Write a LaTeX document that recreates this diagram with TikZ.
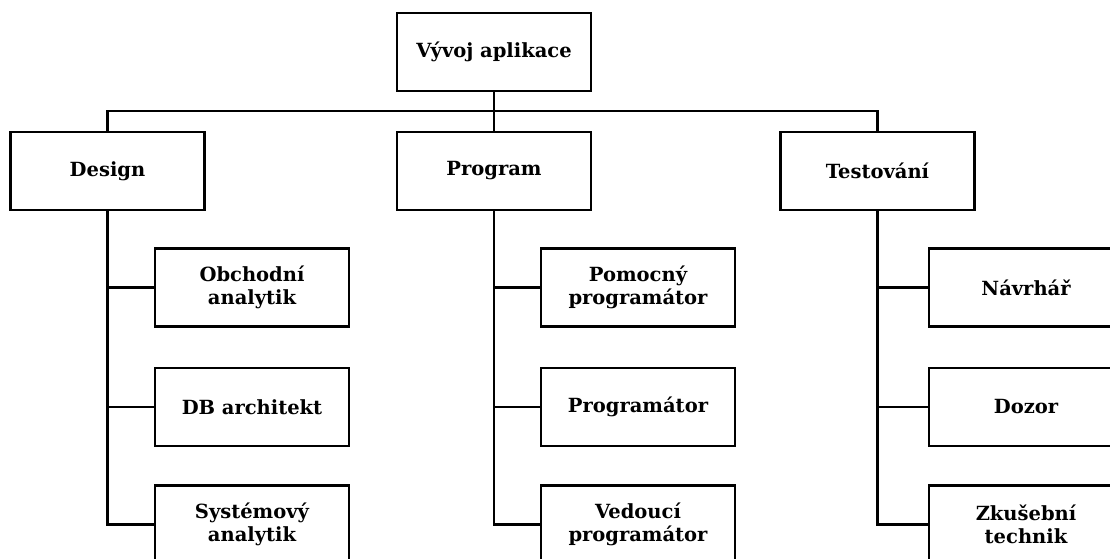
\documentclass[tikz,border=0pt]{standalone}
\usepackage{fontspec}
\setmainfont{DejaVu Serif}
\usetikzlibrary{positioning}

\begin{document}
\begin{tikzpicture}[x=1pt, y=-1pt, line width=2.6pt,
    every node/.style={font=\bfseries\fontsize{19.5}{23.5}\selectfont},
    role/.style={draw, rectangle, fill=white, align=center, minimum width=194pt, minimum height=78pt, inner sep=0pt}]
  \useasboundingbox (0,0) rectangle (1110,559);
  \clip (0,0) rectangle (1110,559);
  \node[role] (root) at (494,52) {Vývoj aplikace};
  \node[role] (design) at (107.5,171) {Design};
  \node[role] (program) at (494,171) {Program};
  \node[role] (test) at (877.5,171) {Testování};
  \coordinate (bar) at (494,111);
  \draw (root.south) -- (bar);
  \draw (design.north) |- (bar);
  \draw (program.north) -- (bar);
  \draw (test.north) |- (bar);
  % design
  \node[role] (obchod) at (252,287.5) {Obchodní\\analytik};
  \node[role] (dbarch) at (252,407) {DB architekt};
  \node[role] (system) at (252,524.5) {Systémový\\analytik};
  % program
  \node[role] (pomocny) at (638,287.5) {Pomocný\\programátor};
  \node[role] (programator) at (638,407) {Programátor};
  \node[role] (vedouci) at (638,524.5) {Vedoucí\\programátor};
  % testovani
  \node[role] (navrhar) at (1026,287.5) {Návrhář};
  \node[role] (dozor) at (1026,407) {Dozor};
  \node[role] (zkusebni) at (1026,524.5) {Zkušební\\technik};
  \foreach \c in {obchod,dbarch,system}
    \draw (design.south) |- (\c.west);
  \foreach \c in {pomocny,programator,vedouci}
    \draw (program.south) |- (\c.west);
  \foreach \c in {navrhar,dozor,zkusebni}
    \draw (test.south) |- (\c.west);
\end{tikzpicture}
\end{document}
